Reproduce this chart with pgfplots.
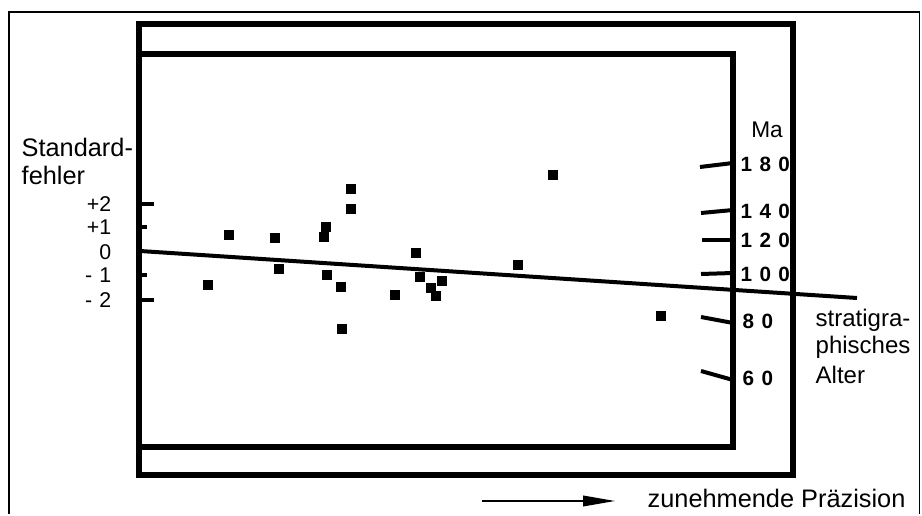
\documentclass[border=0pt]{standalone}
\usepackage{pgfplots}
\pgfplotsset{compat=1.18}
\usepackage{fontspec}
\setmainfont{Liberation Sans}
\usetikzlibrary{arrows.meta}
\newcommand{\gap}{\hspace{5.5pt}}
\begin{document}
\fontsize{19pt}{22pt}\selectfont
\begin{tikzpicture}
\begin{axis}[
  width=691.5pt, height=385.5pt, scale only axis,
  xmin=0, xmax=922, ymin=0, ymax=514, y dir=reverse,
  hide axis, clip=false,
]
\path (axis cs:0,0) rectangle (axis cs:922,514);
% outer thin frame
\draw[line width=1.1pt] (axis cs:9,514) -- (axis cs:9,12) -- (axis cs:919.5,12) -- (axis cs:919.5,514);
% outer thick frame
\draw[line width=4.4pt] (axis cs:139,24) rectangle (axis cs:793,475);
% inner frame
\draw[line width=4.4pt] (axis cs:139,54) -- (axis cs:733,54) -- (axis cs:733,447) -- (axis cs:139,447);
% left ticks
\draw[line width=3.4pt] (axis cs:139,204) -- (axis cs:154,204);
\draw[line width=3.4pt] (axis cs:139,227) -- (axis cs:147,227);
\draw[line width=3.4pt] (axis cs:139,275) -- (axis cs:147,275);
\draw[line width=3.4pt] (axis cs:139,300) -- (axis cs:154,300);
% left tick labels
\begin{scope}[font=\fontsize{16pt}{18pt}\selectfont]
\node[anchor=east] at (axis cs:120,204) {+2};
\node[anchor=east] at (axis cs:120,227) {+1};
\node[anchor=east] at (axis cs:120,252) {0};
\node[anchor=east] at (axis cs:120,275) {-\,\,1};
\node[anchor=east] at (axis cs:120,300) {-\,\,2};
\end{scope}
\node[anchor=west] at (axis cs:13,147) {Standard-};
\node[anchor=west] at (axis cs:13,175) {fehler};
% right ticks (radial)
\draw[line width=3pt] (axis cs:700,167) -- (axis cs:733,163);
\draw[line width=3pt] (axis cs:701,213) -- (axis cs:733,210);
\draw[line width=3pt] (axis cs:702,240) -- (axis cs:733,240);
\draw[line width=3pt] (axis cs:701,274) -- (axis cs:733,273);
\draw[line width=3pt] (axis cs:701,317) -- (axis cs:733,323);
\draw[line width=3pt] (axis cs:701,371) -- (axis cs:733,380);
% right tick labels
\node[font=\fontsize{17pt}{20pt}\selectfont] at (axis cs:767,130) {Ma};
\begin{scope}[font=\fontsize{15.5pt}{18pt}\selectfont\bfseries]
\node[anchor=west] at (axis cs:732,164) {1\gap8\gap0};
\node[anchor=west] at (axis cs:732,211) {1\gap4\gap0};
\node[anchor=west] at (axis cs:732,240) {1\gap2\gap0};
\node[anchor=west] at (axis cs:732,274) {1\gap0\gap0};
\node[anchor=west] at (axis cs:734,321) {8\gap0};
\node[anchor=west] at (axis cs:734,378) {6\gap0};
\end{scope}
\begin{scope}[font=\fontsize{18pt}{20pt}\selectfont]
\node[anchor=west] at (axis cs:807,320) {stratigra-};
\node[anchor=west] at (axis cs:807,347) {phisches};
\node[anchor=west] at (axis cs:807,375) {Alter};
\end{scope}
% regression line
\addplot[black, line width=3pt] coordinates {(140,251) (857,298)};
% data points
\addplot[only marks, mark=square*, mark size=3.3pt, black] coordinates {
(229,235) (208,285) (275,238) (279,269) (324,237) (326,227) (351,189) (351,209)
(327,275) (341,287) (342,329) (395,295) (416,253) (420,277) (431,288) (436,296)
(442,281) (518,265) (553,175) (661,316)
};
% precision arrow
\draw[line width=1.1pt, -{Triangle[length=24pt,width=8pt]}] (axis cs:482,501) -- (axis cs:615,501);
\node[anchor=west] at (axis cs:639,498) {zunehmende Präzision};
\end{axis}
\end{tikzpicture}
\end{document}
